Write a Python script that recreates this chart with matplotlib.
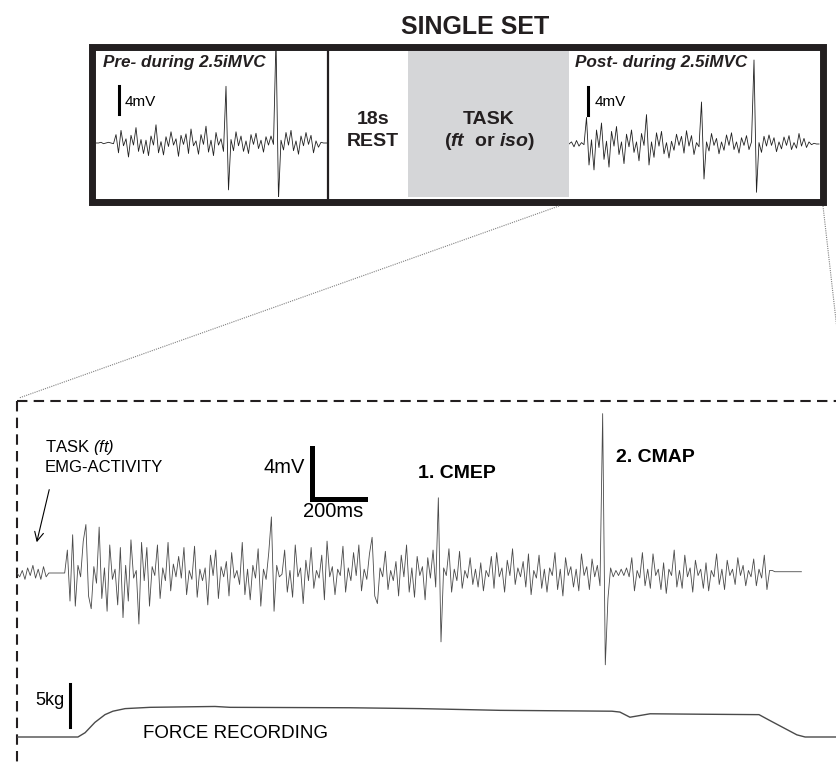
import numpy as np
import matplotlib
matplotlib.use("Agg")
import matplotlib.pyplot as plt
from matplotlib import font_manager
from matplotlib.patches import Rectangle

W, H = 837, 763

# ---- data ----
# zoomed task EMG, one sample every 10 ms, in 0.1 mV
emg_step_ms = 10
emg_main = [
    0, -3, 2, -5, 4, -2, 6, -4, 3, -5,
    5, -3, 0, 0, 0, 0, 0, 0, 0, 18,
    -22, 30, -26, 6, -3, 25, 38, -18, -28, 5,
    -8, 36, -20, 4, -30, 22, -5, 3, -25, 20,
    -35, 6, -22, 26, -4, 2, -40, 24, -6, 20,
    -26, 5, -2, 22, -20, 4, -6, 24, -14, 7,
    -3, 13, -4, 20, -17, 2, -5, 21, -19, 3,
    -6, 4, -25, 14, -2, 18, -20, 5, -3, 9,
    -18, 16, -4, 2, -9, 24, -17, 3, -21, 6,
    -4, 19, -26, 3, -5, 16, 44, -30, 6, -3,
    -1, 18, -15, 2, -19, 22, -3, 4, -24, 10,
    -6, 20, -12, 2, -4, 14, -21, 25, -3, 5,
    -17, 3, -2, 21, -15, 4, -6, 16, -2, 22,
    -14, 3, -5, 15, 28, -18, -24, 4, -3, 17,
    -13, 2, -6, 9, -18, 14, -3, 22, -15, 4,
    -19, 13, -2, 5, -21, 12, -4, 18, -11, 59,    # CMEP
    -54, 4, -2, 19, -15, 3, -6, 17, -12, 2,
    -4, 12, -9, 3, -11, 8, -14, 2, -3, 13,
    -12, 16, -3, 4, -15, 10, -2, 19, -9, 4,
    -3, 9, -11, 15, -17, 2, -4, 14, -12, 3,
    -15, 4, -2, 16, -13, 3, -18, 12, -2, 5,
    -11, 3, -14, 15, -2, 5, -13, 11, -3, 6,
    -10, 125, -72, -20, 4, -3, 2, -2, 3, -2,     # CMAP
    4, -3, 12, -14, 2, -4, 16, -10, 3, -12,
    15, -2, 3, -13, 8, -16, 3, -2, 18, -11,
    2, -12, 14, -3, 4, -15, 10, -2, 3, -12,
    8, -14, 2, -3, 15, -9, 3, -13, 10, -2,
    3, -9, 12, -2, 6, -10, 2, -3, 11, -10,
    3, -4, 14, -13, 2, 2, 1, 1, 1, 1,
    1, 1, 1, 1, 1, 1, 1,
]

force_t_ms = [0, 230, 257, 294, 332, 362, 408, 502, 747, 804, 1257, 1521, 1672,
              1823, 2245, 2275, 2313, 2351, 2389, 2577, 2800, 2842, 2894, 2943,
              2974, 3100]
force_kg = [0, 0, 0.5, 1.7, 2.6, 3.0, 3.3, 3.45, 3.55, 3.45, 3.4, 3.3, 3.2,
            3.1, 3.0, 2.9, 2.3, 2.5, 2.7, 2.65, 2.6, 1.9, 1.05, 0.25, 0, 0]

# small traces in the top box, in 0.1 mV
pre_emg = [
    0, 0, 1, -1, 0, 1, 0, -1, 12, -14,
    18, -4, 6, -20, 11, -3, 22, -12, 5, -15,
    4, -18, 10, -3, 26, -14, 2, -17, 9, -5,
    16, -3, 6, -19, 11, -2, 13, -15, 20, -4,
    3, -16, 12, -2, 24, -13, 4, -18, 15, -3,
    6, -12, 81, -67, 5, -11, 16, -4, 10, -12,
    3, -15, 12, -2, 14, -8, 4, -13, 9, -3,
    10, -2, 150, -80, 4, -10, 15, -3, 18, -11,
    3, -16, 10, -4, 15, -2, 11, -14, 3, -6,
    1, 0, 0, 0,
]
post_emg = [
    0, 3, -4, 5, -3, 2, -1, 38, -30, 6,
    -37, 20, -5, 30, -22, 4, -33, 18, -3, 25,
    -15, 3, -28, 14, -4, 20, -12, 3, -24, 15,
    -2, 42, -30, 3, -19, 16, -3, 18, -14, 2,
    -20, 4, -9, 14, -2, 11, -13, 19, -3, 12,
    -15, 2, -4, 60, -50, 3, -10, 15, -2, 8,
    -14, 3, -9, 13, -2, 16, -8, 3, -13, 9,
    -2, 12, -8, 3, 120, -69, 2, -12, 11, -3,
    13, -2, 9, -11, 3, -7, 10, -2, 12, -8,
    2, -6, 15, -3, 8, -5, 3, -1, 1, 0,
    0,
]

# ---- fonts ----
names = {f.name for f in font_manager.fontManager.ttflist}
BASE = "Liberation Sans"
NARROW = "Liberation Sans Narrow" if "Liberation Sans Narrow" in names else BASE
plt.rcParams["font.family"] = [BASE, "DejaVu Sans"]
plt.rcParams["mathtext.fontset"] = "custom"
plt.rcParams["mathtext.rm"] = BASE
plt.rcParams["mathtext.it"] = BASE + ":italic:bold"
plt.rcParams["mathtext.sf"] = BASE + ":italic"

fig = plt.figure(figsize=(W / 100, H / 100), dpi=100)


def px_axes(x0, y0, x1, y1):
    ax = fig.add_axes([x0 / W, 1 - y1 / H, (x1 - x0) / W, (y1 - y0) / H])
    ax.set_axis_off()
    return ax


# overlay in pixel coordinates for the frames
ax0 = px_axes(0, 0, W, H)
ax0.set_xlim(0, W)
ax0.set_ylim(H, 0)

ax0.add_patch(Rectangle((408, 49), 161, 148, facecolor="#d5d6d8", edgecolor="none"))
ax0.add_patch(Rectangle((92.5, 46.5), 731, 155, facecolor="none",
                        edgecolor="#231f20", lw=5.0))
ax0.plot([328, 328], [49, 198], color="#231f20", lw=1.6)

ax0.text(475, 27, "SINGLE SET", family=NARROW, weight="bold", fontsize=18,
         ha="center", va="center", color="#231f20")
ax0.text(373, 119, "18s", weight="bold", fontsize=14, ha="center",
         va="center", color="#231f20")
ax0.text(373, 142, "REST", weight="bold", fontsize=14, ha="center",
         va="center", color="#231f20")
ax0.text(489, 119, "TASK", weight="bold", fontsize=14, ha="center",
         va="center", color="#231f20")
ax0.text(489, 142, r"($\mathit{ft}$  or $\mathit{iso}$)", weight="bold",
         fontsize=14, ha="center", va="center", color="#231f20")
ax0.text(103, 62, "Pre- during 2.5iMVC", weight="bold", style="italic",
         fontsize=12.3, ha="left", va="center", color="#231f20")
ax0.text(575, 62, "Post- during 2.5iMVC", weight="bold", style="italic",
         fontsize=12.3, ha="left", va="center", color="#231f20")

# zoom connectors and dashed frame
ax0.plot([559, 19], [206, 398], color="#808080", lw=0.8, ls=(0, (1, 1)))
ax0.plot([823, 838], [206, 338], color="#808080", lw=0.8, ls=(0, (1, 1)))
ax0.plot([17, 840], [401, 401], color="#231f20", lw=1.5, ls=(0, (5, 3)))
ax0.plot([17, 17], [401, 770], color="#231f20", lw=1.5, ls=(0, (5, 3)))

# ---- top box traces ----
ax_pre = px_axes(96, 49, 329, 197)
ax_pre.plot(np.arange(len(pre_emg)), np.array(pre_emg) / 10, color="#222222", lw=0.6)
ax_pre.set_xlim(0, (329 - 96) / 2.5)
ax_pre.set_ylim(-(197 - 143) / 7, (143 - 49) / 7)
ax_pre.plot([9.2, 9.2], [4.14, 8.14], color="black", lw=2.2)
ax_pre.text(11.4, 5.9, "4mV", fontsize=11, ha="left", va="center")

ax_post = px_axes(569, 49, 820, 197)
ax_post.plot(np.arange(len(post_emg)), np.array(post_emg) / 10, color="#222222", lw=0.6)
ax_post.set_xlim(0, (820 - 569) / 2.5)
ax_post.set_ylim(-(197 - 144) / 7, (144 - 49) / 7)
ax_post.plot([7.6, 7.6], [4.14, 8.14], color="black", lw=2.2)
ax_post.text(10.2, 6.0, "4mV", fontsize=11, ha="left", va="center")

# ---- zoomed EMG ----
PX_MS = 0.265     # pixels per ms
PX_MV = 12.75     # pixels per mV
ax_emg = px_axes(17, 402, 837, 690)
t = np.arange(len(emg_main)) * emg_step_ms
ax_emg.plot(t, np.array(emg_main) / 10, color="#4a4a4a", lw=0.6)
ax_emg.set_xlim(0, (837 - 17) / PX_MS)
ax_emg.set_ylim(-(690 - 573) / PX_MV, (573 - 402) / PX_MV)

ax_emg.plot([1113, 1113, 1313], [9.8, 5.8, 5.8], color="black", lw=3.6,
            solid_joinstyle="miter")
ax_emg.text(1087, 8.3, "4mV", fontsize=14.5, ha="right", va="center")
ax_emg.text(1192, 4.8, "200ms", fontsize=14.5, ha="center", va="center")
ax_emg.text(1513, 7.84, "1. CMEP", fontsize=14, weight="bold", ha="left", va="center")
ax_emg.text(2260, 9.02, "2. CMAP", fontsize=14, weight="bold", ha="left", va="center")
ax_emg.text(106, 9.88, r"TASK $\mathsf{(ft)}$", fontsize=12, ha="left", va="center")
ax_emg.text(106, 8.31, "EMG-ACTIVITY", fontsize=12, ha="left", va="center")
ax_emg.annotate("", xy=(72, 2.2), xytext=(124, 6.75),
                arrowprops=dict(arrowstyle="->", lw=0.8, color="black",
                                mutation_scale=16))

# ---- force ----
PX_KG = 8.6
ax_f = px_axes(17, 640, 837, 763)
ax_f.plot(force_t_ms, force_kg, color="#4a4a4a", lw=1.0)
ax_f.set_xlim(0, (837 - 17) / PX_MS)
ax_f.set_ylim(-(763 - 737) / PX_KG, (737 - 640) / PX_KG)
ax_f.plot([200, 200], [1.16, 6.16], color="black", lw=2.2)
ax_f.text(181, 4.3, "5kg", fontsize=13, ha="right", va="center")
ax_f.text(475, 0.35, "FORCE RECORDING", fontsize=13.5, ha="left", va="center")

fig.savefig("out.png", dpi=100)
